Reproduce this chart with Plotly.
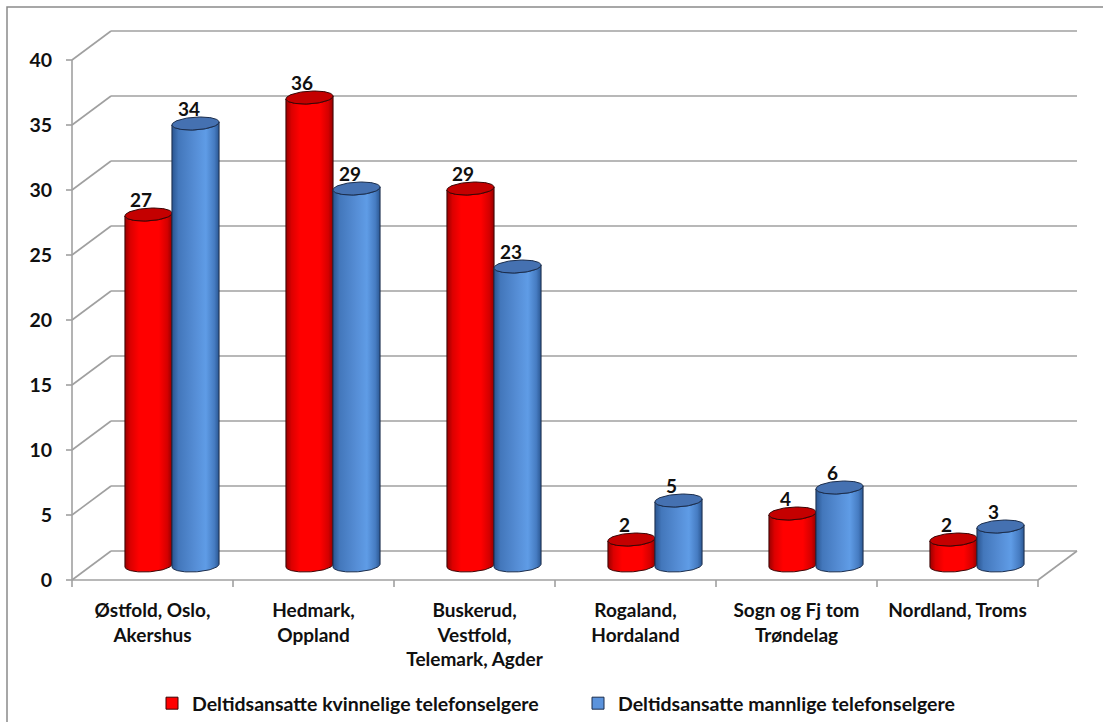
import numpy as np
import plotly.graph_objects as go

# ---- data -------------------------------------------------------------
categories = [
    "Østfold, Oslo,<br>Akershus",
    "Hedmark,<br>Oppland",
    "Buskerud,<br>Vestfold,<br>Telemark, Agder",
    "Rogaland,<br>Hordaland",
    "Sogn og Fj tom<br>Trøndelag",
    "Nordland, Troms",
]
women = [27, 36, 29, 2, 4, 2]
men = [34, 29, 23, 5, 6, 3]
series_names = [
    "Deltidsansatte kvinnelige telefonselgere",
    "Deltidsansatte mannlige telefonselgere",
]
y_ticks = [0, 5, 10, 15, 20, 25, 30, 35, 40]

# ---- styling ----------------------------------------------------------
FONT = "Lato"
TEXT = "#101010"
GRID = "#a0a0a0"
RED_BODY = [[0, "#9a0000"], [0.12, "#dc0000"], [0.3, "#ff0000"],
            [0.72, "#ff0000"], [0.9, "#d40000"], [1, "#950000"]]
BLUE_BODY = [[0, "#2a5590"], [0.14, "#4377bb"], [0.5, "#568ed6"],
             [0.72, "#5f9ce6"], [0.9, "#467cc2"], [1, "#2b5792"]]
RED_TOP, BLUE_TOP = "#c40000", "#4571b1"
RED_EDGE, BLUE_EDGE = "#3a0505", "#1b2d4c"

W, H = 1103, 722
# pixel frame of the front plane: x=-0.5 at 72px, y=0 at 580px
X0PX, SX = 72, 161.0
Y0PX, SY = 580, 13.0
# oblique depth of the box (back wall offset), in data units
DX, DY = 39 / SX, 29 / SY
# cylinder geometry (data units)
R, A, B = 0.143, 0.031, 0.5
OFF = 0.146

ML, MR, MT, MB = 56, 16, 27, 131
x_range = [-0.5 - (X0PX - ML) / SX, -0.5 + (W - MR - X0PX) / SX]
y_range = [-(H - MB - Y0PX) / SY, (Y0PX - MT) / SY]
x_left, x_right = -0.5, len(categories) - 0.5

fig = go.Figure()

# ---- box: side wall, back wall gridlines, floor -----------------------
shapes = []
def seg(x0, y0, x1, y1, color=GRID, width=1.6):
    shapes.append(dict(type="line", xref="x", yref="y", x0=x0, y0=y0,
                       x1=x1, y1=y1, layer="below",
                       line=dict(color=color, width=width)))

for v in y_ticks:
    seg(x_left, v, x_left + DX, v + DY)                   # side wall
    seg(x_left + DX, v + DY, x_right + DX, v + DY)        # back wall
    seg(x_left - 6 / SX, v, x_left, v)                    # tick mark
seg(x_left, 0, x_right, 0)                                # floor front edge
seg(x_right, 0, x_right + DX, DY)                         # floor right edge
seg(x_left, 0, x_left, y_ticks[-1])                       # value axis
for k in range(len(categories) + 1):
    seg(x_left + k, 0, x_left + k, -7 / SY)               # category ticks

# outer chart border
pw, ph = W - ML - MR, H - MT - MB
shapes.append(dict(type="rect", xref="paper", yref="paper",
                   x0=(7 - ML) / pw, x1=(W + 10 - ML) / pw,
                   y0=(H - MB - (H + 10)) / ph, y1=(H - MB - 7) / ph,
                   line=dict(color="#8a8a8a", width=1.5), layer="below"))


# ---- cylinders ---------------------------------------------------------
def ellipse(cx, cy, t):
    return cx + R * np.cos(t) + A * np.sin(t), cy + B * np.sin(t)


theta_r = np.arctan2(A, R)
base = DY / 2
annotations = []

def cylinder(cx, value, body, top, edge):
    t_bot = np.linspace(theta_r + np.pi, theta_r + 2 * np.pi, 50)
    t_top = t_bot[::-1]
    bx, by = ellipse(cx, base, t_bot)
    tx, ty = ellipse(cx, base + value, t_top)
    xs = np.concatenate([bx, tx, bx[:1]])
    ys = np.concatenate([by, ty, by[:1]])
    fig.add_trace(go.Scatter(
        x=xs, y=ys, mode="lines", fill="toself",
        fillgradient=dict(type="horizontal", colorscale=body),
        line=dict(color=edge, width=1), hoverinfo="skip", showlegend=False))
    t = np.linspace(0, 2 * np.pi, 90)
    ex, ey = ellipse(cx, base + value, t)
    fig.add_trace(go.Scatter(
        x=ex, y=ey, mode="lines", fill="toself", fillcolor=top,
        line=dict(color=edge, width=1), hoverinfo="skip", showlegend=False))
    annotations.append(dict(
        x=cx, y=base + value + B, xref="x", yref="y", text=f"<b>{value}</b>",
        showarrow=False, yanchor="bottom", xshift=-7, yshift=-5,
        font=dict(family=FONT, size=19, color=TEXT)))


for i in range(len(categories)):
    gc = i + DX / 2
    cylinder(gc - OFF, women[i], RED_BODY, RED_TOP, RED_EDGE)
    cylinder(gc + OFF, men[i], BLUE_BODY, BLUE_TOP, BLUE_EDGE)

# ---- legend entries ----------------------------------------------------
for name, color, edge in [(series_names[0], "#ff0000", RED_EDGE),
                          (series_names[1], "#5b93dc", BLUE_EDGE)]:
    fig.add_trace(go.Scatter(
        x=[None], y=[None], mode="markers", name=f"<b>{name}</b>",
        marker=dict(symbol="square", size=12, color=color,
                    line=dict(color=edge, width=1))))

fig.update_layout(
    width=W, height=H,
    margin=dict(l=ML, r=MR, t=MT, b=MB, autoexpand=False),
    paper_bgcolor="white", plot_bgcolor="white",
    font=dict(family=FONT, color=TEXT),
    shapes=shapes, annotations=annotations,
    showlegend=True,
    legend=dict(orientation="h", x=(152 - ML) / pw, xanchor="left",
                y=(H - MB - 684) / ph, yanchor="top",
                font=dict(family=FONT, size=19.5, color=TEXT),
                entrywidth=381, entrywidthmode="pixels",
                itemclick=False, itemdoubleclick=False),
    xaxis=dict(range=x_range, showgrid=False, zeroline=False, showline=False,
               tickmode="array", tickvals=list(range(len(categories))),
               ticktext=[f"<b>{c}</b>" for c in categories],
               ticks="", ticklabelstandoff=6,
               tickfont=dict(family=FONT, size=19, color=TEXT),
               fixedrange=True),
    yaxis=dict(range=y_range, showgrid=False, zeroline=False, showline=False,
               tickmode="array", tickvals=y_ticks,
               ticktext=[f"<b>{v}</b>" for v in y_ticks],
               ticks="", ticklabelstandoff=3,
               tickfont=dict(family=FONT, size=19.5, color=TEXT),
               fixedrange=True),
)

fig.write_html("out.html", config={"displayModeBar": False})
